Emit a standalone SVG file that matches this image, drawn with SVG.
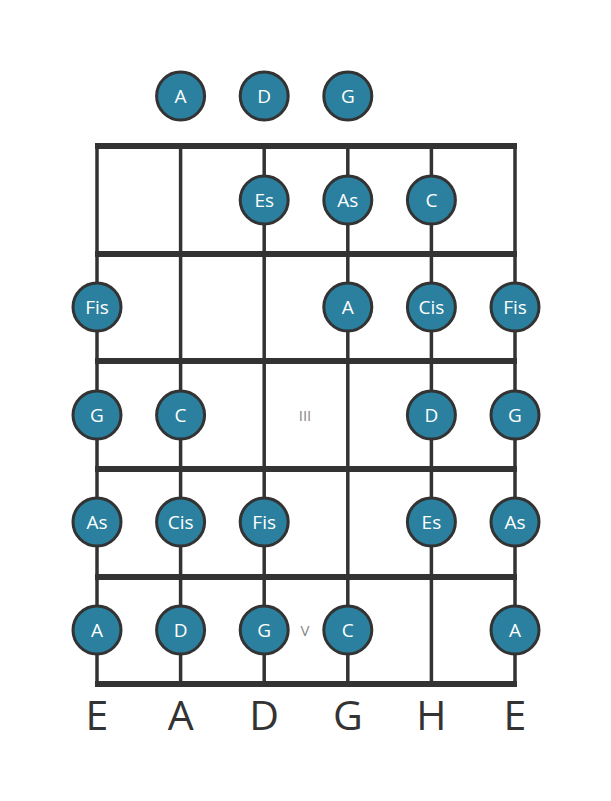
<svg xmlns="http://www.w3.org/2000/svg" width="611" height="801" viewBox="0 0 611 801">
<style>
.fret{stroke:#333;stroke-width:6}
.str{stroke:#333;stroke-width:3.5}
.n circle{fill:#2a809e;stroke:#333;stroke-width:3}
.n text{fill:#fff;font-family:"Open Sans","Noto Sans",sans-serif;font-size:19px;text-anchor:middle;dominant-baseline:central}
.lbl{fill:#333;font-family:"Open Sans","Noto Sans",sans-serif;font-size:41px;text-anchor:middle}
.rn{fill:#888;font-family:"Open Sans","Noto Sans",sans-serif;font-size:15px;text-anchor:middle;dominant-baseline:central}
</style>
<rect width="611" height="801" fill="#fff"/>
<g id="connectors">
<line class="str" x1="97" y1="146" x2="97" y2="684"/>
<line class="str" x1="180.6" y1="146" x2="180.6" y2="684"/>
<line class="str" x1="264.2" y1="146" x2="264.2" y2="684"/>
<line class="str" x1="347.8" y1="146" x2="347.8" y2="684"/>
<line class="str" x1="431.4" y1="146" x2="431.4" y2="684"/>
<line class="str" x1="515" y1="146" x2="515" y2="684"/>
<line class="fret" x1="95" y1="146" x2="517" y2="146"/>
<line class="fret" x1="95" y1="254" x2="517" y2="254"/>
<line class="fret" x1="95" y1="361" x2="517" y2="361"/>
<line class="fret" x1="95" y1="469" x2="517" y2="469"/>
<line class="fret" x1="95" y1="577" x2="517" y2="577"/>
<line class="fret" x1="95" y1="684" x2="517" y2="684"/>
</g>
<text class="rn" x="305" y="415">III</text>
<text class="rn" x="305" y="630">V</text>
<g id="open-A" class="n"><circle cx="180.6" cy="96" r="24"/><text x="180.6" y="96">A</text></g>
<g id="open-D" class="n"><circle cx="264.2" cy="96" r="24"/><text x="264.2" y="96">D</text></g>
<g id="open-G" class="n"><circle cx="347.8" cy="96" r="24"/><text x="347.8" y="96">G</text></g>
<g id="f1-Es" class="n"><circle cx="264.2" cy="200" r="24"/><text x="264.2" y="200">Es</text></g>
<g id="f1-As" class="n"><circle cx="347.8" cy="200" r="24"/><text x="347.8" y="200">As</text></g>
<g id="f1-C" class="n"><circle cx="431.4" cy="200" r="24"/><text x="431.4" y="200">C</text></g>
<g id="f2-Fis1" class="n"><circle cx="97" cy="307" r="24"/><text x="97" y="307">Fis</text></g>
<g id="f2-A" class="n"><circle cx="347.8" cy="307" r="24"/><text x="347.8" y="307">A</text></g>
<g id="f2-Cis" class="n"><circle cx="431.4" cy="307" r="24"/><text x="431.4" y="307">Cis</text></g>
<g id="f2-Fis2" class="n"><circle cx="515" cy="307" r="24"/><text x="515" y="307">Fis</text></g>
<g id="f3-G1" class="n"><circle cx="97" cy="415" r="24"/><text x="97" y="415">G</text></g>
<g id="f3-C" class="n"><circle cx="180.6" cy="415" r="24"/><text x="180.6" y="415">C</text></g>
<g id="f3-D" class="n"><circle cx="431.4" cy="415" r="24"/><text x="431.4" y="415">D</text></g>
<g id="f3-G2" class="n"><circle cx="515" cy="415" r="24"/><text x="515" y="415">G</text></g>
<g id="f4-As1" class="n"><circle cx="97" cy="522" r="24"/><text x="97" y="522">As</text></g>
<g id="f4-Cis" class="n"><circle cx="180.6" cy="522" r="24"/><text x="180.6" y="522">Cis</text></g>
<g id="f4-Fis" class="n"><circle cx="264.2" cy="522" r="24"/><text x="264.2" y="522">Fis</text></g>
<g id="f4-Es" class="n"><circle cx="431.4" cy="522" r="24"/><text x="431.4" y="522">Es</text></g>
<g id="f4-As2" class="n"><circle cx="515" cy="522" r="24"/><text x="515" y="522">As</text></g>
<g id="f5-A1" class="n"><circle cx="97" cy="630" r="24"/><text x="97" y="630">A</text></g>
<g id="f5-D" class="n"><circle cx="180.6" cy="630" r="24"/><text x="180.6" y="630">D</text></g>
<g id="f5-G" class="n"><circle cx="264.2" cy="630" r="24"/><text x="264.2" y="630">G</text></g>
<g id="f5-C" class="n"><circle cx="347.8" cy="630" r="24"/><text x="347.8" y="630">C</text></g>
<g id="f5-A2" class="n"><circle cx="515" cy="630" r="24"/><text x="515" y="630">A</text></g>
<g id="labels">
<text class="lbl" x="97" y="730">E</text>
<text class="lbl" x="180.6" y="730">A</text>
<text class="lbl" x="264.2" y="730">D</text>
<text class="lbl" x="347.8" y="730">G</text>
<text class="lbl" x="431.4" y="730">H</text>
<text class="lbl" x="515" y="730">E</text>
</g>
</svg>
